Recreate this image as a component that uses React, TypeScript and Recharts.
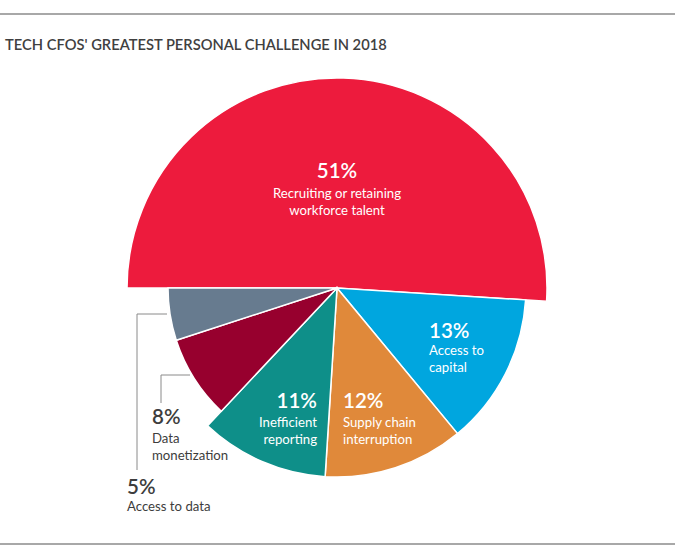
import React from "react";
import { PieChart, Pie, Cell } from "recharts";

const categories = [
  "Recruiting or retaining workforce talent",
  "Access to capital",
  "Supply chain interruption",
  "Inefficient reporting",
  "Data monetization",
  "Access to data",
];
const shares = [51, 13, 12, 11, 8, 5];
const labelLines = [
  ["Recruiting or retaining", "workforce talent"],
  ["Access to", "capital"],
  ["Supply chain", "interruption"],
  ["Inefficient", "reporting"],
  ["Data", "monetization"],
  ["Access to data"],
];
const title = "TECH CFOS' GREATEST PERSONAL CHALLENGE IN 2018";

const data = categories.map((name, i) => ({ name, value: shares[i] }));

const COLORS = ["#ED1B3D", "#00A6DF", "#E0893A", "#0E8F89", "#97002E", "#677B8F"];
// radius group per slice: 0 = large, 1 = medium, 2 = small
const GROUP = [0, 1, 1, 1, 2, 2];
const RADII = [210, 189, 169];

const FONT = "Lato, 'Open Sans', sans-serif";
const CX = 337;
const CY = 288;

type LP = {
  dx: number;
  dy: number;
  anchor: "start" | "middle" | "end";
  color: string;
  lead?: number[][];
  gap: number;
};
const LABEL_POS: LP[] = [
  { dx: 0, dy: -110, anchor: "middle", color: "#fff", gap: 20 },
  { dx: 92, dy: 50, anchor: "start", color: "#fff", gap: 17 },
  { dx: 6, dy: 120, anchor: "start", color: "#fff", gap: 18.5 },
  { dx: -20, dy: 120, anchor: "end", color: "#fff", gap: 18.5 },
  {
    dx: -185,
    dy: 136,
    anchor: "start",
    color: "#3d3d3d",
    gap: 19,
    lead: [[-147, 87], [-176, 87], [-176, 115]],
  },
  {
    dx: -210,
    dy: 206,
    anchor: "start",
    color: "#3d3d3d",
    gap: 16.5,
    lead: [[-170, 26], [-200, 26], [-200, 182]],
  },
];

const renderLabel = (props: any) => {
  const { cx, cy, index } = props;
  const p = LABEL_POS[index];
  const x = cx + p.dx;
  const y = cy + p.dy;
  return (
    <g key={`lab-${index}`}>
      {p.lead && (
        <polyline
          points={p.lead.map(([a, b]) => `${cx + a},${cy + b}`).join(" ")}
          fill="none"
          stroke="#8a8a8a"
          strokeWidth={1}
        />
      )}
      <text
        x={x}
        y={y}
        textAnchor={p.anchor}
        fill={p.color}
        fontFamily={FONT}
        fontSize={20.5}
        fontWeight={600}
      >
        {shares[index]}%
      </text>
      {labelLines[index].map((ln, k) => (
        <text
          key={k}
          x={x}
          y={y + p.gap + k * 17}
          textAnchor={p.anchor}
          fill={p.color}
          fontFamily={FONT}
          fontSize={13.2}
        >
          {ln}
        </text>
      ))}
    </g>
  );
};

export default function App() {
  return (
    <div
      style={{
        position: "absolute",
        left: 0,
        top: 0,
        width: 675,
        height: 557,
        background: "#fff",
      }}
    >
      <div
        style={{
          position: "absolute",
          left: 0,
          top: 13,
          width: 675,
          height: 1.5,
          background: "#a8a8a8",
        }}
      />
      <div
        style={{
          position: "absolute",
          left: 0,
          top: 543,
          width: 675,
          height: 1.5,
          background: "#a8a8a8",
        }}
      />
      <div
        style={{
          position: "absolute",
          left: 5,
          top: 35,
          fontFamily: FONT,
          fontSize: 14.7,
          fontWeight: 600,
          color: "#404040",
          whiteSpace: "nowrap",
        }}
      >
        {title}
      </div>
      <div style={{ position: "absolute", left: 0, top: 0 }}>
        <PieChart
          width={675}
          height={557}
          margin={{ top: 0, right: 0, bottom: 0, left: 0 }}
        >
          {RADII.map((r, g) => (
            <Pie
              key={g}
              data={data}
              dataKey="value"
              nameKey="name"
              cx={CX}
              cy={CY}
              outerRadius={r}
              innerRadius={0}
              startAngle={180}
              endAngle={-180}
              isAnimationActive={false}
              labelLine={false}
              label={false}
            >
              {data.map((d, i) => (
                <Cell
                  key={i}
                  fill={GROUP[i] === g ? COLORS[i] : "none"}
                  stroke={GROUP[i] === g ? "#ffffff" : "none"}
                  strokeWidth={1.5}
                />
              ))}
            </Pie>
          ))}
          <Pie
            data={data}
            dataKey="value"
            nameKey="name"
            cx={CX}
            cy={CY}
            outerRadius={1}
            innerRadius={0}
            startAngle={180}
            endAngle={-180}
            isAnimationActive={false}
            labelLine={false}
            label={renderLabel}
          >
            {data.map((d, i) => (
              <Cell key={i} fill="none" stroke="none" />
            ))}
          </Pie>
        </PieChart>
      </div>
    </div>
  );
}
